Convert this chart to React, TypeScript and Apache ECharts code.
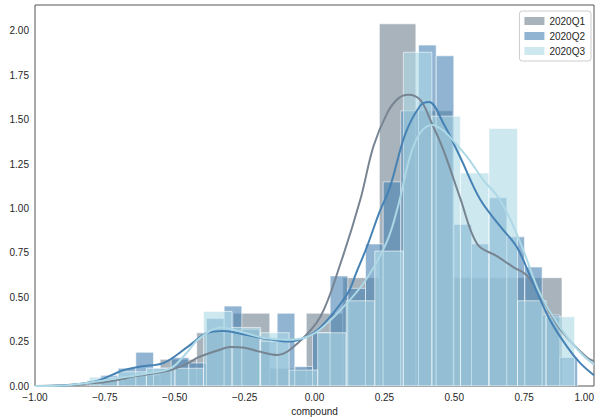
import React, { useEffect, useRef } from "react";
import * as echarts from "echarts";

const seriesNames = ["2020Q1", "2020Q2", "2020Q3"];
const barColors = ["#708090", "#4682b4", "#add8e6"];
const lineColors = ["#778491", "#4682b4", "#add8e6"];

// histogram bins (density): first edge, bin width, heights
const q1Start = -0.8136;
const q1Width = 0.1307;
const q1Hist = [0.03, 0.06, 0.15, 0.3, 0.41, 0.1, 0.41, 0.61, 2.04, 1.55, 0.61, 0.61, 0.61];

const q2Start = -0.7657;
const q2Width = 0.06321;
const q2Hist = [
  0.06, 0.1, 0.19, 0.1, 0.16, 0.13, 0.38, 0.45, 0.32, 0.25, 0.41, 0.11, 0.3, 0.62,
  0.55, 0.8, 1.15, 1.55, 1.92, 1.86, 0.91, 0.8, 1.06, 0.84, 0.67, 0.4, 0.16,
];

const q3Start = -0.8057;
const q3Width = 0.10214;
const q3Hist = [0.05, 0.08, 0.1, 0.1, 0.42, 0.33, 0.3, 0.09, 0.3, 0.48, 0.76, 1.88, 1.52, 1.2, 1.45, 0.48, 0.39];

// KDE curves
const q1KdeX = [-1.0, -0.9, -0.8, -0.76, -0.7, -0.657, -0.6, -0.514, -0.45, -0.418, -0.346, -0.3, -0.25, -0.2, -0.132, -0.061, 0.021, 0.093, 0.164, 0.211, 0.261, 0.3, 0.336, 0.379, 0.414, 0.461, 0.521, 0.582, 0.654, 0.711, 0.761, 0.818, 0.889, 0.975, 1.0];
const q1KdeY = [0.0, 0.004, 0.015, 0.02, 0.035, 0.05, 0.065, 0.09, 0.13, 0.16, 0.2, 0.22, 0.215, 0.195, 0.175, 0.24, 0.39, 0.69, 1.05, 1.35, 1.54, 1.62, 1.64, 1.61, 1.5, 1.33, 1.06, 0.8, 0.73, 0.67, 0.62, 0.48, 0.3, 0.16, 0.14];

const q2KdeX = [-1.0, -0.896, -0.85, -0.775, -0.682, -0.621, -0.539, -0.454, -0.382, -0.325, -0.25, -0.218, -0.15, -0.096, -0.039, 0.021, 0.118, 0.15, 0.189, 0.23, 0.27, 0.325, 0.379, 0.41, 0.461, 0.521, 0.593, 0.664, 0.725, 0.782, 0.843, 0.904, 0.95, 1.0];
const q2KdeY = [0.0, 0.003, 0.01, 0.03, 0.09, 0.11, 0.13, 0.22, 0.3, 0.31, 0.29, 0.28, 0.26, 0.25, 0.27, 0.33, 0.52, 0.64, 0.79, 0.97, 1.12, 1.42, 1.58, 1.6, 1.48, 1.29, 1.05, 0.9, 0.78, 0.58, 0.37, 0.22, 0.13, 0.06];

const q3KdeX = [-1.0, -0.9, -0.8, -0.7, -0.6, -0.514, -0.45, -0.418, -0.336, -0.25, -0.18, -0.096, -0.039, 0.021, 0.118, 0.189, 0.261, 0.3, 0.343, 0.38, 0.421, 0.46, 0.486, 0.546, 0.604, 0.654, 0.7, 0.746, 0.807, 0.879, 0.95, 1.0];
const q3KdeY = [0.0, 0.003, 0.02, 0.045, 0.07, 0.1, 0.2, 0.26, 0.33, 0.3, 0.27, 0.26, 0.27, 0.32, 0.47, 0.61, 0.82, 1.02, 1.3, 1.43, 1.47, 1.44, 1.4, 1.29, 1.16, 1.07, 0.94, 0.77, 0.52, 0.33, 0.19, 0.12];

const xTicks = [-1, -0.75, -0.5, -0.25, 0, 0.25, 0.5, 0.75, 1];

const FONT = "'Liberation Sans', Arial, sans-serif";
const TEXT = "#262626";
const BAR_OPACITY = 0.6;

function binsOf(start: number, width: number, heights: number[]) {
  return heights.map((h, k) => [start + k * width, start + (k + 1) * width, h]);
}

function pairs(xs: number[], ys: number[]) {
  return xs.map((x, i) => [x, ys[i]]);
}

function fmt(v: number) {
  const s = Math.abs(v).toFixed(2);
  return v < -1e-9 ? "\u2212" + s : s;
}

export default function App() {
  const ref = useRef<HTMLDivElement>(null);

  useEffect(() => {
    document.body.style.margin = "0";
    if (!ref.current) return;
    const chart = echarts.init(ref.current, undefined, { renderer: "svg", width: 600, height: 417 });

    const hists = [
      binsOf(q1Start, q1Width, q1Hist),
      binsOf(q2Start, q2Width, q2Hist),
      binsOf(q3Start, q3Width, q3Hist),
    ];
    const kdes = [pairs(q1KdeX, q1KdeY), pairs(q2KdeX, q2KdeY), pairs(q3KdeX, q3KdeY)];

    const series: any[] = [];
    seriesNames.forEach((name, i) => {
      const color = barColors[i];
      series.push({
        type: "custom",
        name,
        clip: true,
        itemStyle: { color, opacity: BAR_OPACITY },
        encode: { x: [0, 1], y: 2 },
        data: hists[i],
        renderItem: (params: any, api: any) => {
          const x0 = api.value(0);
          const x1 = api.value(1);
          const h = api.value(2);
          const p0 = api.coord([x0, h]);
          const p1 = api.coord([x1, 0]);
          return {
            type: "rect",
            shape: { x: p0[0], y: p0[1], width: p1[0] - p0[0], height: p1[1] - p0[1] },
            style: { fill: color, stroke: "#ffffff", lineWidth: 1, opacity: BAR_OPACITY },
          };
        },
      });
      series.push({
        type: "line",
        name: name + " KDE",
        data: kdes[i],
        smooth: 0.35,
        showSymbol: false,
        symbol: "none",
        clip: true,
        lineStyle: { color: lineColors[i], width: 2 },
        itemStyle: { color: lineColors[i] },
      });
    });

    chart.setOption({
      animation: false,
      backgroundColor: "#ffffff",
      textStyle: { fontFamily: FONT, color: TEXT },
      grid: {
        left: 35,
        right: 6,
        top: 5,
        bottom: 31,
        containLabel: false,
        outerBoundsMode: "none",
        show: true,
        borderColor: "#555555",
        borderWidth: 1,
        backgroundColor: "transparent",
      },
      legend: {
        show: true,
        orient: "vertical",
        right: 9,
        top: 11,
        padding: [5, 6, 5, 5],
        itemGap: 5,
        itemWidth: 20,
        itemHeight: 8,
        borderColor: "#cccccc",
        borderWidth: 1,
        borderRadius: 3,
        backgroundColor: "#ffffff",
        textStyle: { fontFamily: FONT, fontSize: 10, color: TEXT },
        data: seriesNames.map((n, i) => ({
          name: n,
          icon: "rect",
          itemStyle: { color: barColors[i], opacity: BAR_OPACITY, borderWidth: 0 },
        })),
      },
      xAxis: {
        type: "value",
        min: xTicks[0],
        max: xTicks[xTicks.length - 1],
        interval: 0.25,
        name: "compound",
        nameLocation: "middle",
        nameGap: 18,
        nameTextStyle: { fontFamily: FONT, fontSize: 10, color: TEXT },
        axisLine: { show: false },
        axisTick: { show: false },
        splitLine: { show: false },
        axisLabel: {
          fontFamily: FONT,
          fontSize: 10,
          color: TEXT,
          margin: 6,
          alignMaxLabel: "right",
          formatter: (v: number) => fmt(v),
        },
      },
      yAxis: {
        type: "value",
        min: 0,
        max: 2.146,
        interval: 0.25,
        axisLine: { show: false },
        axisTick: { show: false },
        splitLine: { show: false },
        axisLabel: {
          fontFamily: FONT,
          fontSize: 10,
          color: TEXT,
          margin: 6,
          formatter: (v: number) => (Math.abs(v / 0.25 - Math.round(v / 0.25)) < 1e-6 ? fmt(v) : ""),
        },
      },
      series,
    });

    return () => chart.dispose();
  }, []);

  return <div ref={ref} style={{ width: 600, height: 417 }} />;
}
